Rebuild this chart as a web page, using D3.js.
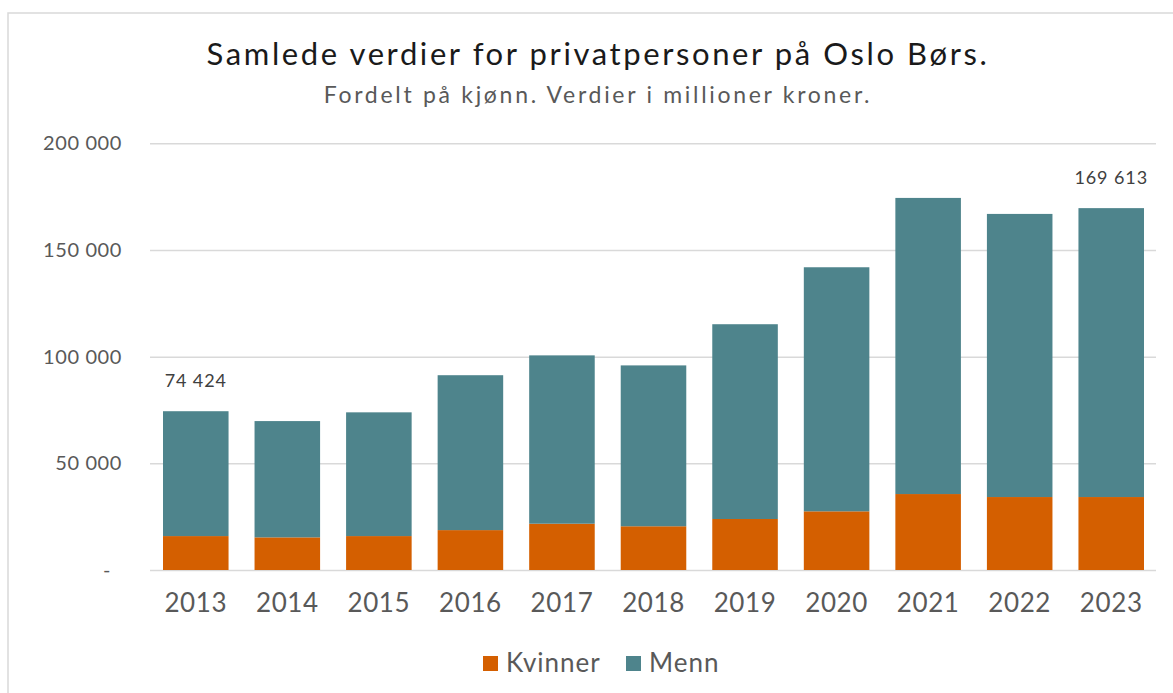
<!DOCTYPE html>
<html><head><meta charset="utf-8">
<script src="https://cdn.jsdelivr.net/npm/d3@7"></script>
<style>
html,body{margin:0;padding:0;background:#fff;}
svg{display:block;font-family:Lato, "Open Sans", sans-serif;}
</style></head>
<body>
<svg id="chart" width="1173" height="693"></svg>
<script>
const years = ["2013","2014","2015","2016","2017","2018","2019","2020","2021","2022","2023"];
const kvinner = [15900, 15300, 15900, 18700, 21700, 20500, 23900, 27500, 35600, 34200, 34200];
const menn = [58524, 54500, 58000, 72600, 78900, 75400, 91300, 114400, 138800, 132700, 135413];
const yTicks = [0, 50000, 100000, 150000, 200000];
const seriesNames = ["Kvinner", "Menn"];
const seriesColors = ["#D45F00", "#4E848C"];
const labelled = {"2013": "74 424", "2023": "169 613"};

const svg = d3.select("#chart");
const W = 1173, H = 693;

// frame
svg.append("rect").attr("x", 8).attr("y", 13).attr("width", W).attr("height", H)
  .attr("fill", "none").attr("stroke", "#d9d9d9").attr("stroke-width", 1.5);

const x = d3.scaleBand().domain(years).range([150, 1157]).paddingInner(0.284).paddingOuter(0.142);
const y = d3.scaleLinear().domain([0, 200000]).range([570, 143.3]);

// title
svg.append("text").attr("x", 598).attr("y", 65).attr("text-anchor", "middle")
  .attr("font-size", 31).attr("letter-spacing", 2.6).attr("fill", "#1a1a1a")
  .text("Samlede verdier for privatpersoner på Oslo Børs.");
svg.append("text").attr("x", 598).attr("y", 103).attr("text-anchor", "middle")
  .attr("font-size", 23).attr("letter-spacing", 2.7).attr("fill", "#595959")
  .text("Fordelt på kjønn. Verdier i millioner kroner.");

// gridlines & y labels
const fmt = v => v === 0 ? "-" : d3.format(",")(v).replace(/,/g, " ");
const yAxis = d3.axisLeft(y).tickValues(yTicks).tickSize(-(1156 - 150)).tickFormat(fmt).tickPadding(28);
const gy = svg.append("g").attr("transform", "translate(150,0)").call(yAxis);
gy.select(".domain").remove();
gy.selectAll(".tick line").attr("stroke", "#d9d9d9").attr("stroke-width", 1.5);
gy.selectAll(".tick text").attr("font-size", 20).attr("letter-spacing", 0.6).attr("fill", "#595959")
  .attr("font-family", "Lato, sans-serif")
  .attr("dx", d => d === 0 ? -11 : 0);

// stacked bars
const rows = years.map((yr, i) => ({year: yr, Kvinner: kvinner[i], Menn: menn[i]}));
const stack = d3.stack().keys(seriesNames)(rows);
svg.append("g").selectAll("g").data(stack).join("g")
  .attr("fill", (d, i) => seriesColors[i])
  .selectAll("rect").data(d => d).join("rect")
  .attr("x", d => x(d.data.year))
  .attr("y", d => y(d[1]))
  .attr("width", x.bandwidth())
  .attr("height", d => y(d[0]) - y(d[1]));

// data labels
svg.append("g").selectAll("text").data(rows.filter(r => labelled[r.year])).join("text")
  .attr("x", d => x(d.year) + x.bandwidth() / 2)
  .attr("y", d => y(d.Kvinner + d.Menn) - 24)
  .attr("text-anchor", "middle").attr("font-size", 18).attr("letter-spacing", 0.9).attr("fill", "#404040")
  .text(d => labelled[d.year]);

// x axis
const gx = svg.append("g").attr("transform", "translate(0,570)")
  .call(d3.axisBottom(x).tickSize(0).tickPadding(24));
gx.select(".domain").remove();
gx.selectAll(".tick text").attr("font-size", 26).attr("letter-spacing", 0.6).attr("fill", "#595959")
  .attr("font-family", "Lato, sans-serif");

// legend
const legend = svg.append("g");
const legendX = [483, 626];
seriesNames.forEach((name, i) => {
  legend.append("rect").attr("x", legendX[i]).attr("y", 656).attr("width", 15).attr("height", 15)
    .attr("fill", seriesColors[i]);
  legend.append("text").attr("x", legendX[i] + 23).attr("y", 672)
    .attr("font-size", 26).attr("letter-spacing", 1).attr("fill", "#595959").text(name);
});
</script>
</body></html>
